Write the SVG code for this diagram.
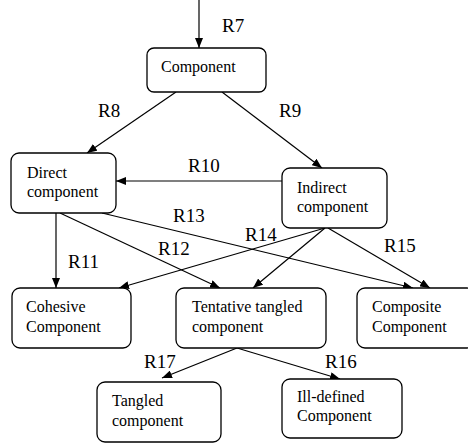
<svg xmlns="http://www.w3.org/2000/svg" width="468" height="443" viewBox="0 0 468 443">
<style>
.box{fill:#fff;stroke:#000;stroke-width:1.3}
.t{font-family:'Liberation Serif','Times New Roman',Times,'DejaVu Serif',serif;font-size:16px;fill:#000}
.l{font-family:'Liberation Serif','Times New Roman',Times,'DejaVu Serif',serif;font-size:19px;fill:#000}
.c{stroke:#000;stroke-width:1.2;fill:none;marker-end:url(#ah)}
</style>
<defs>
<marker id="ah" viewBox="0 0 10 8" refX="10" refY="4" markerWidth="10" markerHeight="8" markerUnits="userSpaceOnUse" orient="auto">
<path d="M0,0 L10,4 L0,8 Z" fill="#000"/>
</marker>
</defs>
<g id="connectors">
<line class="c" x1="199" y1="0" x2="199" y2="48"/>
<line class="c" x1="176" y1="92" x2="87" y2="153"/>
<line class="c" x1="222" y1="92" x2="322" y2="168"/>
<line class="c" x1="282" y1="181" x2="116" y2="181"/>
<line class="c" x1="56" y1="213" x2="56" y2="288"/>
<line class="c" x1="60" y1="213" x2="220" y2="288"/>
<line class="c" x1="102" y1="213" x2="413" y2="288"/>
<line class="c" x1="325" y1="228" x2="119" y2="288"/>
<line class="c" x1="325" y1="228" x2="253" y2="288"/>
<line class="c" x1="328" y1="228" x2="430" y2="288"/>
<line class="c" x1="237" y1="348" x2="162" y2="378"/>
<line class="c" x1="237" y1="348" x2="340" y2="379"/>
<text class="l" x="222" y="32" font-family="Liberation Serif, serif">R7</text>
<text class="l" x="98" y="117">R8</text>
<text class="l" x="279" y="117">R9</text>
<text class="l" x="188" y="172">R10</text>
<text class="l" x="68" y="268">R11</text>
<text class="l" x="158" y="255">R12</text>
<text class="l" x="173" y="222">R13</text>
<text class="l" x="245" y="241">R14</text>
<text class="l" x="384" y="252">R15</text>
<text class="l" x="325" y="368">R16</text>
<text class="l" x="144" y="368">R17</text>
</g>
<g id="component">
<rect class="box" x="147" y="48" width="119" height="44" rx="7"/>
<text class="t" x="161" y="72">Component</text>
</g>
<g id="direct">
<rect class="box" x="11" y="153" width="105" height="60" rx="8"/>
<text class="t" x="27" y="178">Direct</text>
<text class="t" x="27" y="197">component</text>
</g>
<g id="indirect">
<rect class="box" x="282" y="168" width="105" height="60" rx="8"/>
<text class="t" x="297" y="193">Indirect</text>
<text class="t" x="297" y="212">component</text>
</g>
<g id="cohesive">
<rect class="box" x="12" y="288" width="119" height="60" rx="8"/>
<text class="t" x="26" y="312">Cohesive</text>
<text class="t" x="26" y="332">Component</text>
</g>
<g id="tentative">
<rect class="box" x="176" y="288" width="150" height="60" rx="8"/>
<text class="t" x="192" y="312">Tentative tangled</text>
<text class="t" x="192" y="332">component</text>
</g>
<g id="composite">
<rect class="box" x="357" y="288" width="118" height="60" rx="8"/>
<text class="t" x="372" y="312">Composite</text>
<text class="t" x="372" y="332">Component</text>
</g>
<g id="tangled">
<rect class="box" x="97" y="382" width="124" height="60" rx="8"/>
<text class="t" x="112" y="406">Tangled</text>
<text class="t" x="112" y="426">component</text>
</g>
<g id="illdefined">
<rect class="box" x="282" y="379" width="120" height="59" rx="8"/>
<text class="t" x="297" y="402">Ill-defined</text>
<text class="t" x="297" y="421">Component</text>
</g>
</svg>
